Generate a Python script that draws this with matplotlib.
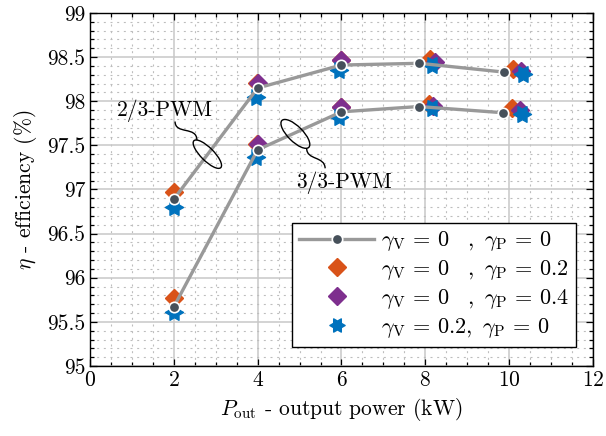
import matplotlib
matplotlib.use("Agg")
import matplotlib.pyplot as plt
import matplotlib.transforms as mtransforms
from matplotlib.patches import Ellipse, PathPatch
from matplotlib.path import Path
from matplotlib.ticker import MultipleLocator

plt.rcParams['font.family'] = 'serif'
plt.rcParams['font.serif'] = ['cmr10']
plt.rcParams['mathtext.fontset'] = 'cm'
plt.rcParams['axes.unicode_minus'] = False
plt.rcParams['axes.formatter.use_mathtext'] = True

# base case gamma_V = 0, gamma_P = 0 (line with dots)
upper_x = [2, 4, 6, 7.86, 9.88]
upper_y = [96.89, 98.15, 98.41, 98.43, 98.33]
lower_x = [2, 4, 6, 7.84, 9.85]
lower_y = [95.67, 97.45, 97.88, 97.94, 97.87]

# gamma_P = 0.2 (orange)
p02_x = [2, 3.98, 5.98, 8.10, 10.10, 2, 3.98, 5.98, 8.08, 10.06]
p02_y = [96.97, 98.21, 98.47, 98.48, 98.36, 95.77, 97.51, 97.93, 97.97, 97.92]

# gamma_P = 0.4 (purple)
p04_x = [4, 6, 8.22, 10.28, 4, 6, 8.19, 10.26]
p04_y = [98.21, 98.47, 98.45, 98.34, 97.52, 97.94, 97.95, 97.90]

# gamma_V = 0.2 (blue hexagram)
v02_x = [2, 3.95, 5.95, 8.15, 10.33, 2, 3.95, 5.95, 8.15, 10.30]
v02_y = [96.80, 98.05, 98.35, 98.41, 98.31, 95.61, 97.37, 97.82, 97.92, 97.85]

y_ticks = [95, 95.5, 96, 96.5, 97, 97.5, 98, 98.5, 99]
y_ticklabels = ['95', '95.5', '96', '96.5', '97', '97.5', '98', '98.5', '99']

orange = '#D95319'
purple = '#7E2F8E'
blue = '#0072BD'

hexagram = Path.unit_regular_star(6, 0.577).transformed(mtransforms.Affine2D().rotate_deg(90))

fig = plt.figure(figsize=(6.06, 4.36), dpi=100)
ax = fig.add_axes([0.1485, 0.1606, 0.83, 0.8096])

ax.plot(p02_x, p02_y, ls='none', marker='D', ms=9.5, color=orange, zorder=3)
ax.plot(p04_x, p04_y, ls='none', marker='D', ms=9.5, color=purple, zorder=4)
ax.plot(v02_x, v02_y, ls='none', marker=hexagram, ms=13, color=blue, zorder=5)
ax.plot(upper_x, upper_y, color='#999999', lw=2.4, marker='o', ms=7.5,
        mfc='#46505a', mec='white', mew=1.2, zorder=6)
ax.plot(lower_x, lower_y, color='#999999', lw=2.4, marker='o', ms=7.5,
        mfc='#46505a', mec='white', mew=1.2, zorder=6)

ax.set_xlim(0, 12)
ax.set_ylim(95, 99)
ax.xaxis.set_major_locator(MultipleLocator(2))
ax.xaxis.set_minor_locator(MultipleLocator(0.5))
ax.set_yticks(y_ticks)
ax.set_yticklabels(y_ticklabels)
ax.yaxis.set_minor_locator(MultipleLocator(0.1))

ax.grid(which='major', color='#c8c8c8', lw=1.1, zorder=0)
ax.grid(which='minor', color='#bdbdbd', lw=0.8, ls=(0, (1.8, 4.2)), zorder=0)
ax.set_axisbelow(True)
ax.tick_params(which='both', direction='in', top=True, right=True, labelsize=15.5)
ax.tick_params(which='major', length=5, width=0.9)
ax.tick_params(which='minor', length=3, width=0.9)
for s in ax.spines.values():
    s.set_linewidth(1.0)

ax.set_xlabel(r'$P_\mathrm{out}$ - output power (kW)', fontsize=15.5, labelpad=4)
ax.set_ylabel(r'$\eta$ - efficiency (%)', fontsize=15.5, labelpad=6)

# legend
h0, = ax.plot([], [], color='#999999', lw=2.4, marker='o', ms=7.5,
              mfc='#46505a', mec='white', mew=1.2)
h1, = ax.plot([], [], ls='none', marker='D', ms=9.5, color=orange)
h2, = ax.plot([], [], ls='none', marker='D', ms=9.5, color=purple)
h3, = ax.plot([], [], ls='none', marker=hexagram, ms=11, color=blue)
labels = [r'$\gamma_\mathrm{V}\,=\,0\ \ \ ,\ \gamma_\mathrm{P}\,=\,0$',
          r'$\gamma_\mathrm{V}\,=\,0\ \ \ ,\ \gamma_\mathrm{P}\,=\,0.2$',
          r'$\gamma_\mathrm{V}\,=\,0\ \ \ ,\ \gamma_\mathrm{P}\,=\,0.4$',
          r'$\gamma_\mathrm{V}\,=\,0.2,\ \gamma_\mathrm{P}\,=\,0$']
leg = ax.legend([h0, h1, h2, h3], labels, loc='lower right',
                bbox_to_anchor=(0.966, 0.0547), fontsize=16, fancybox=False,
                framealpha=1, edgecolor='black', handlelength=3.4,
                handletextpad=0.3, labelspacing=0.22, borderpad=0.3,
                borderaxespad=0.0)
leg.get_frame().set_linewidth(1.0)
leg.set_zorder(10)

# annotations
ax.text(1.78, 97.89, '2/3-PWM', fontsize=15.5, ha='center', va='center', zorder=7)
ax.text(6.06, 97.08, '3/3-PWM', fontsize=15.5, ha='center', va='center', zorder=7)

for cx, cy, h in [(2.8, 97.40, 0.13), (4.9, 97.63, 0.15)]:
    tr = fig.dpi_scale_trans + mtransforms.ScaledTranslation(cx, cy, ax.transData)
    ax.add_patch(Ellipse((0, 0), 0.38, h, angle=-45, transform=tr,
                         fill=False, ec='black', lw=1.0, zorder=8))

lead1 = Path([(2.03, 97.77), (2.03, 97.62), (2.55, 97.72), (2.55, 97.56)],
             [Path.MOVETO, Path.CURVE4, Path.CURVE4, Path.CURVE4])
lead2 = Path([(5.17, 97.465), (5.17, 97.33), (5.6, 97.38), (5.61, 97.24)],
             [Path.MOVETO, Path.CURVE4, Path.CURVE4, Path.CURVE4])
for p in [lead1, lead2]:
    ax.add_patch(PathPatch(p, fill=False, ec='black', lw=1.0, zorder=8))

fig.savefig('out.png', dpi=100)
